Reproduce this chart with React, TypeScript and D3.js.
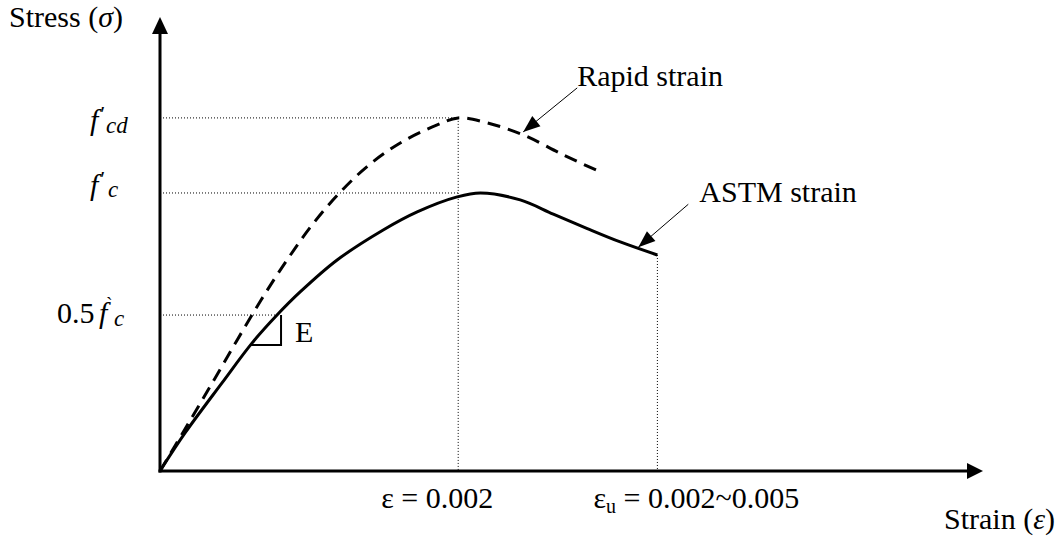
import React from "react";
import * as d3 from "d3";

// ---- data (strain in units of 0.001, stress normalised to f'c) ----
const astmStrain = [0, 0.168, 0.416, 0.617, 0.785, 0.94, 1.188, 1.497, 1.725, 1.993, 2.15, 2.416, 2.638, 2.866, 3.087, 3.336];
const astmStress = [0, 0.137, 0.317, 0.46, 0.561, 0.644, 0.759, 0.867, 0.932, 0.986, 1.0, 0.975, 0.924, 0.872, 0.824, 0.777];

const rapidStrain = [0, 0.168, 0.342, 0.51, 0.678, 0.852, 1.02, 1.195, 1.389, 1.611, 1.859, 2.0, 2.195, 2.436, 2.705, 2.94];
const rapidStress = [0, 0.151, 0.309, 0.464, 0.615, 0.759, 0.885, 0.995, 1.095, 1.18, 1.245, 1.27, 1.252, 1.209, 1.137, 1.079];

const fcdValue = 1.27;
const fcValue = 1.0;
const halfFcValue = 0.561; // where 0.5 f'c is drawn in the sketch
const peakStrain = 2.0; // ε = 0.002
const ultimateStrain = 3.336; // ε_u end of ASTM curve
const xAxisMax = 5.52;
const yAxisMax = 1.633;

const xLabelPeak = "ε = 0.002";
const xLabelUltimateTail = " = 0.002~0.005";
const annotRapid = "Rapid strain";
const annotAstm = "ASTM strain";

const W = 1061;
const H = 536;
const FONT = '"Liberation Serif", "Times New Roman", Times, serif';

function interp(xs: number[], ys: number[], v: number) {
  for (let i = 1; i < xs.length; i++) {
    if (v <= xs[i]) {
      const t = (v - xs[i - 1]) / (xs[i] - xs[i - 1]);
      return ys[i - 1] + t * (ys[i] - ys[i - 1]);
    }
  }
  return ys[ys.length - 1];
}

function headPts(tx: number, ty: number, fx: number, fy: number, len: number, half: number) {
  const dx = tx - fx, dy = ty - fy;
  const L = Math.hypot(dx, dy);
  const ux = dx / L, uy = dy / L;
  const bx = tx - ux * len, by = ty - uy * len;
  return `${tx},${ty} ${bx - uy * half},${by + ux * half} ${bx + uy * half},${by - ux * half}`;
}

export default function App() {
  const x = d3.scaleLinear().domain([0, xAxisMax]).range([160, 983]);
  const y = d3.scaleLinear().domain([0, yAxisMax]).range([471, 17]);

  const line = d3
    .line<[number, number]>()
    .x((d) => x(d[0]))
    .y((d) => y(d[1]))
    .curve(d3.curveCatmullRom.alpha(0.5));

  const astmPath = line(astmStrain.map((s, i) => [s, astmStress[i]] as [number, number])) || "";
  const rapidPath = line(rapidStrain.map((s, i) => [s, rapidStress[i]] as [number, number])) || "";

  const x0 = x(0), y0 = y(0);
  const xEnd = x(xAxisMax), yEnd = y(yAxisMax);

  // annotation arrows
  const rapidAt = 2.436;
  const rTip = [x(rapidAt), y(interp(rapidStrain, rapidStress, rapidAt)) - 3];
  const rTail = [rTip[0] + 54, rTip[1] - 44];
  const astmAt = 3.208;
  const aTip = [x(astmAt), y(interp(astmStrain, astmStress, astmAt)) - 1];
  const aTail = [aTip[0] + 50, aTip[1] - 43];

  const halfFcStrain = 0.785;
  const astmEndStress = astmStress[astmStress.length - 1];

  // E triangle
  const triTop = [x(halfFcStrain) + 4, y(halfFcValue)];
  const triCorner = [triTop[0], triTop[1] + 30];
  const triLeft = [triTop[0] - 30, triTop[1] + 30];

  const dotted = { stroke: "#000", strokeWidth: 1, strokeDasharray: "1,2", fill: "none" };
  const tStyle = { fontFamily: FONT };

  return (
    <svg
      width={W}
      height={H}
      style={{ position: "absolute", left: 0, top: 0, background: "#fff" }}
    >
      <rect x={0} y={0} width={W} height={H} fill="#fff" />

      {/* dotted guides */}
      <line x1={x0} x2={x(peakStrain)} y1={y(fcdValue)} y2={y(fcdValue)} {...dotted} />
      <line x1={x0} x2={x(peakStrain)} y1={y(fcValue)} y2={y(fcValue)} {...dotted} />
      <line x1={x0} x2={x(halfFcStrain)} y1={y(halfFcValue)} y2={y(halfFcValue)} {...dotted} />
      <line x1={x(peakStrain)} x2={x(peakStrain)} y1={y(fcdValue)} y2={y0} {...dotted} />
      <line x1={x(ultimateStrain)} x2={x(ultimateStrain)} y1={y(astmEndStress)} y2={y0} {...dotted} />

      {/* curves */}
      <path d={rapidPath} fill="none" stroke="#000" strokeWidth={3} strokeDasharray="13,8" />
      <path d={astmPath} fill="none" stroke="#000" strokeWidth={3} />

      {/* E triangle */}
      <polyline
        points={`${triLeft[0]},${triLeft[1]} ${triCorner[0]},${triCorner[1]} ${triTop[0]},${triTop[1]}`}
        fill="none"
        stroke="#000"
        strokeWidth={2}
      />

      {/* axes */}
      <line x1={x0} x2={x0} y1={y0 + 1.5} y2={yEnd + 14} stroke="#000" strokeWidth={3} />
      <line x1={x0 - 1.5} x2={xEnd - 14} y1={y0} y2={y0} stroke="#000" strokeWidth={3} />
      <polygon points={`${x0},${yEnd} ${x0 - 8},${yEnd + 17} ${x0 + 8},${yEnd + 17}`} fill="#000" />
      <polygon points={`${xEnd},${y0} ${xEnd - 16},${y0 - 8} ${xEnd - 16},${y0 + 8}`} fill="#000" />

      {/* annotation arrows */}
      <line x1={rTail[0]} y1={rTail[1]} x2={rTip[0]} y2={rTip[1]} stroke="#000" strokeWidth={1} />
      <polygon points={headPts(rTip[0], rTip[1], rTail[0], rTail[1], 17, 6.5)} fill="#000" />
      <line x1={aTail[0]} y1={aTail[1]} x2={aTip[0]} y2={aTip[1]} stroke="#000" strokeWidth={1} />
      <polygon points={headPts(aTip[0], aTip[1], aTail[0], aTail[1], 17, 6.5)} fill="#000" />

      <g style={tStyle} fill="#000">
        <text x={triCorner[0] + 14} y={triCorner[1] - 3} fontSize={30}>E</text>
        <text x={rTail[0]} y={rTail[1] - 2} fontSize={30}>{annotRapid}</text>
        <text x={aTail[0] + 11} y={aTail[1] - 2} fontSize={30}>{annotAstm}</text>

        {/* axis titles */}
        <text x={9} y={27} fontSize={30}>
          Stress (<tspan fontStyle="italic">σ</tspan>)
        </text>
        <text x={944} y={529} fontSize={30}>
          Strain (<tspan fontStyle="italic">ε</tspan>)
        </text>

        {/* y labels */}
        <text x={90} y={y(fcdValue) + 12} fontSize={30} fontStyle="italic">f</text>
        <text x={99} y={y(fcdValue) + 3} fontSize={22} fontStyle="italic">'</text>
        <text x={106} y={y(fcdValue) + 15} fontSize={23} fontStyle="italic">cd</text>

        <text x={90} y={y(fcValue) + 2} fontSize={30} fontStyle="italic">f</text>
        <text x={99} y={y(fcValue) - 7} fontSize={22} fontStyle="italic">'</text>
        <text x={108} y={y(fcValue) + 4} fontSize={23} fontStyle="italic">c</text>

        <text x={57} y={y(halfFcValue) + 8} fontSize={30}>0.5</text>
        <text x={99} y={y(halfFcValue) + 8} fontSize={30} fontStyle="italic">f</text>
        <text x={106} y={y(halfFcValue) - 3} fontSize={20}>`</text>
        <text x={114} y={y(halfFcValue) + 11} fontSize={23} fontStyle="italic">c</text>

        {/* x labels */}
        <text x={x(peakStrain) - 77} y={508} fontSize={30}>{xLabelPeak}</text>
        <text x={x(ultimateStrain) - 64} y={508} fontSize={30}>
          ε<tspan fontSize={20} dy={5}>u</tspan>
          <tspan dy={-5}>{xLabelUltimateTail}</tspan>
        </text>
      </g>
    </svg>
  );
}
